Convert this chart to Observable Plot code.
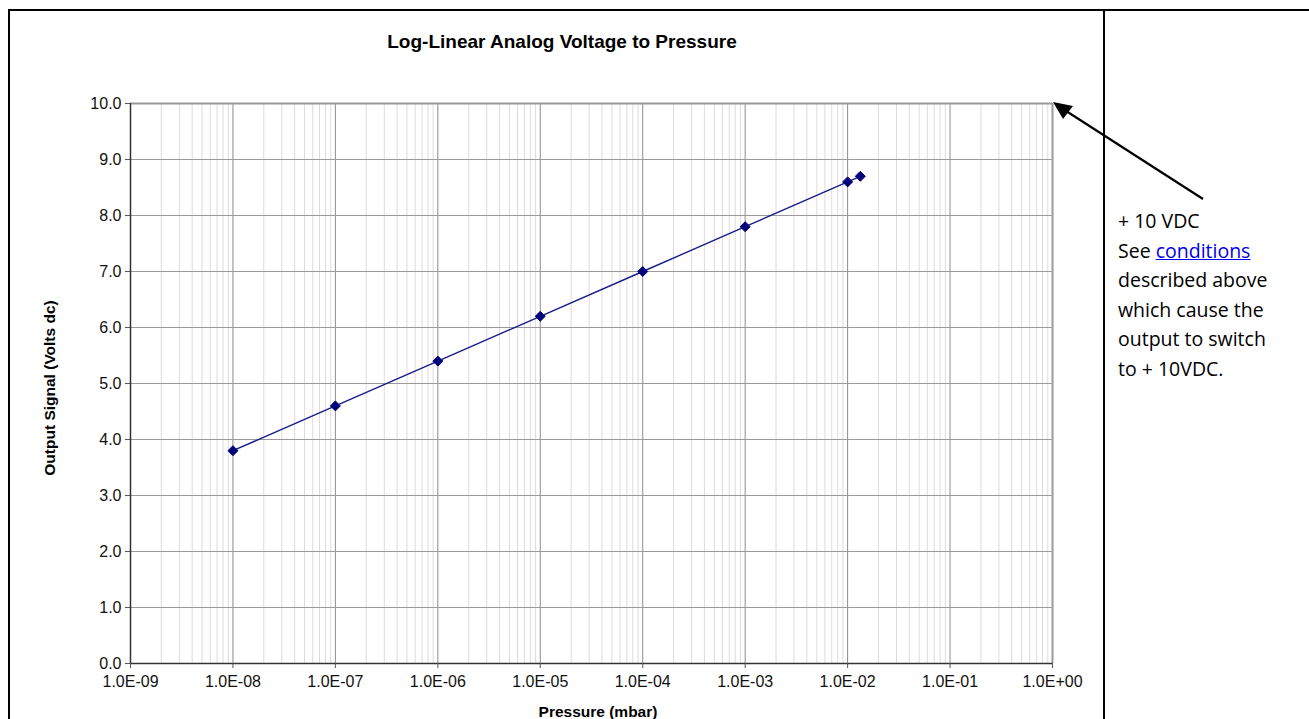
<!DOCTYPE html>
<html>
<head>
<meta charset="utf-8">
<script src="https://cdn.jsdelivr.net/npm/d3@7"></script>
<script src="https://cdn.jsdelivr.net/npm/@observablehq/plot@0.6"></script>
<style>
  html, body { margin: 0; padding: 0; background: #fff; }
  #wrap { position: relative; width: 1309px; height: 719px; overflow: hidden; font-family: "Liberation Sans", Arial, sans-serif; }
  #chart { position: absolute; left: 0; top: 0; }
  .bTop { position: absolute; left: 8px; top: 9px; width: 1301px; height: 2px; background: #000; }
  .bLeft { position: absolute; left: 8px; top: 9px; width: 2px; height: 710px; background: #000; }
  .bDiv { position: absolute; left: 1103px; top: 9px; width: 2px; height: 710px; background: #000; }
  #title { position: absolute; left: 262px; width: 600px; top: 31px; text-align: center; font-weight: bold; font-size: 19px; color: #000; }
  #xlabel { position: absolute; left: 448px; width: 300px; top: 703px; text-align: center; font-weight: bold; font-size: 15.5px; color: #000; }
  #ylabel { position: absolute; left: 50px; top: 388px; transform: translate(-50%, -50%) rotate(-90deg); white-space: nowrap; font-weight: bold; font-size: 15.5px; color: #000; }
  #note { position: absolute; left: 1118px; top: 206px; font-family: "Open Sans", Lato, sans-serif; font-size: 19.5px; line-height: 29.6px; color: #000; }
  #note a { color: #0000ee; text-decoration: underline; }
  #arrow { position: absolute; left: 0; top: 0; pointer-events: none; }
</style>
</head>
<body>
<div id="wrap">
  <div id="chart"></div>
  <div class="bTop"></div>
  <div class="bLeft"></div>
  <div class="bDiv"></div>
  <div id="title">Log-Linear Analog Voltage to Pressure</div>
  <div id="ylabel">Output Signal (Volts dc)</div>
  <div id="xlabel">Pressure (mbar)</div>
  <div id="note">+ 10 VDC<br>See <a href="#">conditions</a><br>described above<br>which cause the<br>output to switch<br>to + 10VDC.</div>
  <svg id="arrow" width="1309" height="719">
    <line x1="1203" y1="199" x2="1063" y2="109" stroke="#000" stroke-width="2.2"/>
    <path d="M1053,102 L1073,106 L1063,119 z" fill="#000"/>
  </svg>
</div>
<script>
// Data
const pressure = [1e-8, 1e-7, 1e-6, 1e-5, 1e-4, 1e-3, 1e-2, 1.33e-2];
const voltage  = [3.8, 4.6, 5.4, 6.2, 7.0, 7.8, 8.6, 8.7];
const xDecades = [1e-9, 1e-8, 1e-7, 1e-6, 1e-5, 1e-4, 1e-3, 1e-2, 1e-1, 1];
const yTicks   = [0, 1, 2, 3, 4, 5, 6, 7, 8, 9, 10];

const data = pressure.map((p, i) => ({p, v: voltage[i]}));
const minor = [];
for (const d of xDecades.slice(0, -1)) for (let k = 2; k <= 9; k++) minor.push(d * k);

const fmtX = d => {
  const e = Math.round(Math.log10(d));
  return "1.0E" + (e < 0 ? "-" : "+") + String(Math.abs(e)).padStart(2, "0");
};

const plot = Plot.plot({
  width: 1309,
  height: 719,
  marginLeft: 130,
  marginRight: 257,
  marginTop: 103,
  marginBottom: 56,
  style: { fontFamily: "'Liberation Sans', Arial, sans-serif", fontSize: "16px", color: "#000", background: "transparent" },
  x: { type: "log", domain: [1e-9, 1], label: null },
  y: { domain: [0, 10], label: null },
  marks: [
    Plot.ruleX(minor, { stroke: "#dcdcdc", strokeWidth: 1 }),
    Plot.ruleX(xDecades, { stroke: "#8c8c8c", strokeWidth: 1 }),
    Plot.ruleY(yTicks, { stroke: "#9a9a9a", strokeWidth: 1 }),
    Plot.ruleX([1], { stroke: "#9a9a9a", strokeWidth: 2 }),
    Plot.ruleY([10], { stroke: "#9a9a9a", strokeWidth: 2 }),
    Plot.ruleX([1e-9], { stroke: "#333", strokeWidth: 1.5 }),
    Plot.ruleY([0], { stroke: "#333", strokeWidth: 1.5 }),
    Plot.axisX({ ticks: xDecades, tickFormat: fmtX, tickSize: 5, tickPadding: 7, stroke: "#555", fill: "#111", fontSize: 16, label: null }),
    Plot.axisY({ ticks: yTicks, tickFormat: d => d.toFixed(1), tickSize: 5, tickPadding: 4, stroke: "#555", fill: "#111", fontSize: 16, label: null }),
    Plot.line(data, { x: "p", y: "v", stroke: "#1a1a8c", strokeWidth: 1.4 }),
    Plot.dot(data, { x: "p", y: "v", symbol: "diamond2", fill: "#00007a", stroke: "#00007a", strokeWidth: 1, r: 4.5 })
  ]
});
document.getElementById("chart").appendChild(plot);
</script>
</body>
</html>
